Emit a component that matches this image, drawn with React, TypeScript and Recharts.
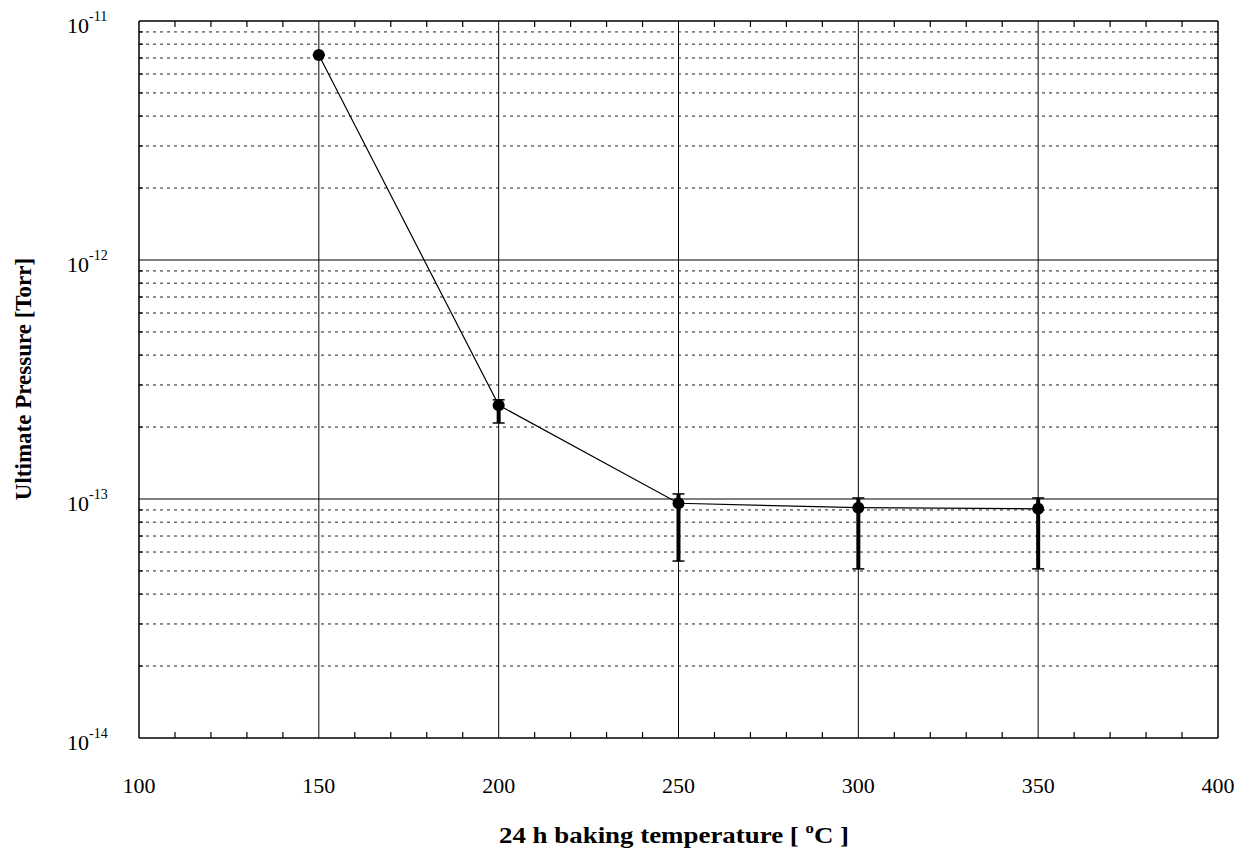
import { LineChart, Line, XAxis, YAxis, ReferenceLine, ErrorBar, Label } from 'recharts';

document.body.style.margin = '0';

// ── Data ─────────────────────────────────────────────────────────────────────
const temps = [150, 200, 250, 300, 350];
const pressure = [7.2e-12, 2.47e-13, 9.6e-14, 9.2e-14, 9.1e-14];
const errLow = [0, 3.9e-14, 4.1e-14, 4.1e-14, 4.0e-14];
const errHigh = [0, 1.3e-14, 0.9e-14, 0.9e-14, 1.0e-14];

const xMajor = [150, 200, 250, 300, 350];
const xLabels = [100, 150, 200, 250, 300, 350, 400];
const xMinor = Array.from({ length: 31 }, (_, i) => 100 + i * 10);
const decades = [1e-14, 1e-13, 1e-12, 1e-11];
const decadeExp = ['-14', '-13', '-12', '-11'];
const yMinor = [1e-14, 1e-13, 1e-12].flatMap(d => [2, 3, 4, 5, 6, 7, 8, 9].map(m => m * d));
const yAll = [...decades, ...yMinor].sort((a, b) => a - b);

const data = temps.map((t, i) => ({
  t,
  p: pressure[i],
  err: [errLow[i], errHigh[i]],
}));

const FONT = '"Liberation Serif", "Times New Roman", serif';
const isDecade = (v: number) => decades.some(d => Math.abs(v / d - 1) < 1e-6);

// ── Custom ticks ──────────────────────────────────────────────────────────────

// eslint-disable-next-line @typescript-eslint/no-explicit-any
function BottomTick({ x, y, payload }: any) {
  const v = payload.value;
  if (xLabels.includes(v)) {
    return (
      <text x={x} y={y + 55} textAnchor="middle" fontFamily={FONT} fontSize={22} fill="#000">
        {v}
      </text>
    );
  }
  return <line x1={x} x2={x} y1={y} y2={y - 6} stroke="#000" strokeWidth={1.2} />;
}

// eslint-disable-next-line @typescript-eslint/no-explicit-any
function TopTick({ x, y, payload }: any) {
  if (xLabels.includes(payload.value)) return null;
  return <line x1={x} x2={x} y1={y} y2={y + 6} stroke="#000" strokeWidth={1.2} />;
}

// eslint-disable-next-line @typescript-eslint/no-explicit-any
function LeftTick({ x, y, payload }: any) {
  const v = payload.value;
  if (isDecade(v)) {
    const idx = decades.findIndex(d => Math.abs(v / d - 1) < 1e-6);
    return (
      <text x={x - 72} y={y + 12} fontFamily={FONT} fontSize={22} fill="#000">
        10
        <tspan dy={-12} fontSize={14}>{decadeExp[idx]}</tspan>
      </text>
    );
  }
  return <line x1={x} x2={x + 4} y1={y} y2={y} stroke="#000" strokeWidth={1.2} />;
}

// eslint-disable-next-line @typescript-eslint/no-explicit-any
function RightTick({ x, y, payload }: any) {
  if (isDecade(payload.value)) return null;
  return <line x1={x} x2={x - 4} y1={y} y2={y} stroke="#000" strokeWidth={1.2} />;
}

export default function App() {
  return (
    <div style={{ width: 1250, height: 855, background: '#fff' }}>
      <LineChart width={1250} height={855} data={data} margin={{ top: 20, right: 31, bottom: 0, left: 0 }}>
        <XAxis
          xAxisId="b"
          dataKey="t"
          type="number"
          domain={[100, 400]}
          ticks={xMinor}
          interval={0}
          height={117}
          tickSize={0}
          tickMargin={0}
          tickLine={false}
          axisLine={{ stroke: '#000', strokeWidth: 1.5 }}
          tick={<BottomTick />}
        >
          <Label
            content={() => (
              <text
                x={674}
                y={843}
                textAnchor="middle"
                fontFamily={FONT}
                fontSize={24}
                fontWeight="bold"
                textLength={350}
                lengthAdjust="spacingAndGlyphs"
                fill="#000"
              >
                24 h baking temperature [ <tspan dy={-10} fontSize={15}>o</tspan><tspan dy={10}>C ]</tspan>
              </text>
            )}
          />
        </XAxis>
        <XAxis
          xAxisId="t"
          orientation="top"
          dataKey="t"
          type="number"
          domain={[100, 400]}
          ticks={xMinor}
          interval={0}
          height={1}
          tickSize={0}
          tickMargin={0}
          tickLine={false}
          axisLine={{ stroke: '#000', strokeWidth: 1.5 }}
          tick={<TopTick />}
        />
        <YAxis
          yAxisId="l"
          scale="log"
          domain={[1e-14, 1e-11]}
          allowDataOverflow
          ticks={yAll}
          interval={0}
          width={139}
          tickSize={0}
          tickMargin={0}
          tickLine={false}
          axisLine={{ stroke: '#000', strokeWidth: 1.5 }}
          tick={<LeftTick />}
        >
          <Label
            content={() => (
              <text
                transform="translate(31, 379) rotate(-90)"
                textAnchor="middle"
                fontFamily={FONT}
                fontSize={23}
                fontWeight="bold"
                fill="#000"
              >
                Ultimate Pressure [Torr]
              </text>
            )}
          />
        </YAxis>
        <YAxis
          yAxisId="r"
          orientation="right"
          scale="log"
          domain={[1e-14, 1e-11]}
          allowDataOverflow
          ticks={yAll}
          interval={0}
          width={1}
          tickSize={0}
          tickMargin={0}
          tickLine={false}
          axisLine={{ stroke: '#000', strokeWidth: 1.5 }}
          tick={<RightTick />}
        />

        {yMinor.map(v => (
          <ReferenceLine key={`ym-${v}`} xAxisId="b" yAxisId="l" y={v} stroke="#222" strokeWidth={1} strokeDasharray="3 4" />
        ))}
        {[1e-13, 1e-12].map(v => (
          <ReferenceLine key={`yd-${v}`} xAxisId="b" yAxisId="l" y={v} stroke="#000" strokeWidth={1} />
        ))}
        {xMajor.map(v => (
          <ReferenceLine key={`xv-${v}`} xAxisId="b" yAxisId="l" x={v} stroke="#000" strokeWidth={1} />
        ))}

        <Line
          xAxisId="b"
          yAxisId="l"
          dataKey="p"
          stroke="#000"
          strokeWidth={1.2}
          dot={{ r: 6, fill: '#000', stroke: '#000', strokeWidth: 0 }}
          activeDot={false}
          isAnimationActive={false}
        >
          <ErrorBar dataKey="err" direction="y" width={0} stroke="#000" strokeWidth={4} isAnimationActive={false} />
          <ErrorBar dataKey="err" direction="y" width={6} stroke="#000" strokeWidth={1.5} isAnimationActive={false} />
        </Line>
      </LineChart>
    </div>
  );
}
